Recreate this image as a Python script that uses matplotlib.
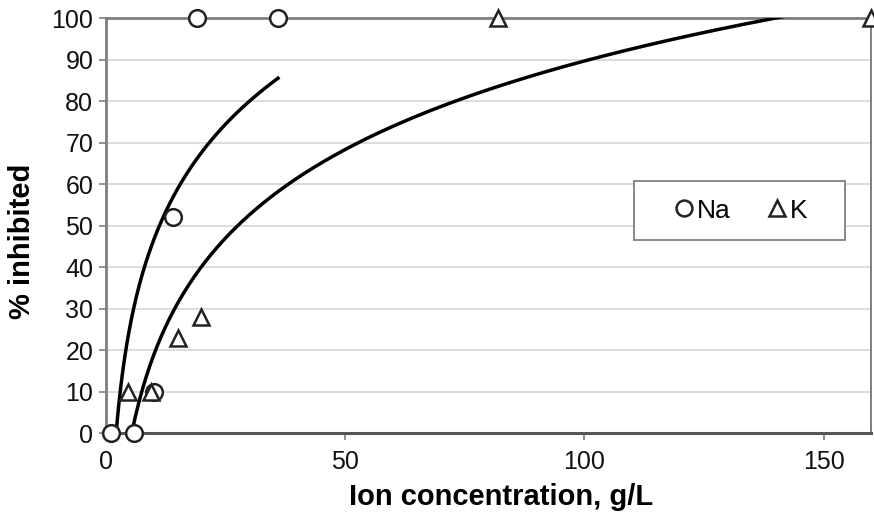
import numpy as np
import matplotlib
matplotlib.use("Agg")
import matplotlib.pyplot as plt
from matplotlib.patches import Rectangle

plt.rcParams['font.family'] = ['Liberation Sans', 'DejaVu Sans']

# data
na_conc = [1, 6, 10, 14, 19, 36]
na_inhib = [0, 0, 10, 52, 100, 100]
k_conc = [4.6, 9.5, 15, 20, 82, 160]
k_inhib = [10, 10, 23, 28, 100, 100]

x_ticks = [0, 50, 100, 150]
y_ticks = list(range(0, 101, 10))


def log_fit(x, y):
    # Excel-style logarithmic trendline: y = a*ln(x) + b
    a, b = np.polyfit(np.log(x), y, 1)
    return a, b


fig = plt.figure(figsize=(8.74, 5.18), dpi=100)
ax = fig.add_axes([0.121, 0.164, 0.876, 0.801])

# trendlines
a, b = log_fit(na_conc, na_inhib)
xs = np.linspace(1, max(na_conc), 300)
ax.plot(xs, a * np.log(xs) + b, color='black', lw=2.5, zorder=3)

a, b = log_fit(k_conc, k_inhib)
xs = np.linspace(min(k_conc), max(k_conc), 400)
ax.plot(xs, a * np.log(xs) + b, color='black', lw=2.5, zorder=3)

# data points
ax.plot(na_conc, na_inhib, 'o', ms=12, mfc='white', mec='#222222', mew=1.8,
        ls='none', label='Na', clip_on=False, zorder=5)
ax.plot(k_conc, k_inhib, '^', ms=12, mfc='white', mec='#222222', mew=1.8,
        ls='none', label='K', clip_on=False, zorder=5)

ax.set_xlim(0, 160)
ax.set_ylim(0, 100)
ax.set_xticks(x_ticks)
ax.set_yticks(y_ticks)
ax.yaxis.grid(True, color='#d9d9d9', lw=1.3)
ax.set_axisbelow(True)

for side in ['left', 'right', 'top']:
    ax.spines[side].set_color('#7f7f7f')
    ax.spines[side].set_linewidth(2.0)
ax.spines['bottom'].set_color('#555555')
ax.spines['bottom'].set_linewidth(2.2)
ax.spines['right'].set_linewidth(1.4)

ax.tick_params(axis='both', direction='out', length=5, width=1.2,
               colors='#7f7f7f', labelcolor='#111111', labelsize=18)
ax.tick_params(axis='x', pad=7)
ax.tick_params(axis='y', pad=4)

ax.set_xlabel('Ion concentration, g/L', fontsize=21, fontweight='bold')
ax.set_ylabel('% inhibited', fontsize=21, fontweight='bold')
ax.xaxis.set_label_coords(0.516, -0.154)
ax.yaxis.set_label_coords(-0.110, 0.463)
ax.xaxis.label.set_va('center')
ax.yaxis.label.set_va('center')

# legend box drawn separately so its size matches the reference
ax.add_patch(Rectangle((0.690, 0.465), 0.276, 0.142, transform=ax.transAxes,
                       facecolor='white', edgecolor='#7f7f7f', lw=1.3, zorder=6))
leg = ax.legend(ncol=2, loc='center', bbox_to_anchor=(0.830, 0.536),
                fontsize=19, frameon=False, handlelength=0.7,
                handletextpad=0.15, columnspacing=1.4, borderaxespad=0,
                markerscale=0.95)
leg.set_zorder(7)

plt.savefig('out.png', dpi=100)
